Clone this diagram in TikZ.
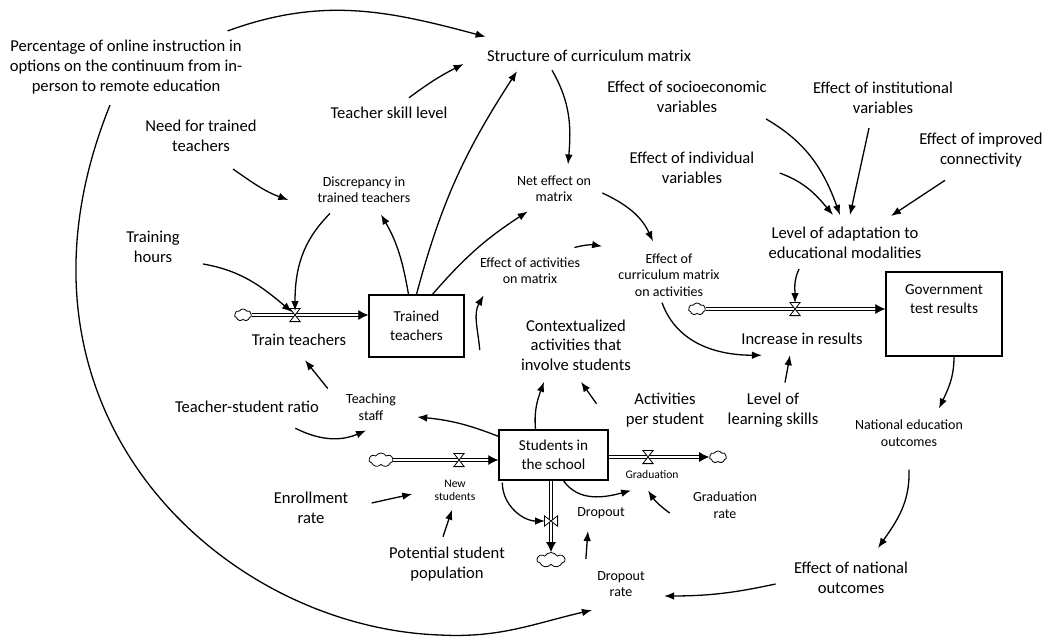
\documentclass[tikz,border=0pt]{standalone}
\usepackage{fontspec}
\setmainfont{Carlito}
\usetikzlibrary{arrows.meta,shapes.symbols}

\tikzset{
  big/.style={font=\fontsize{8.3}{9.8}\selectfont, align=center, inner sep=0.5pt},
  small/.style={font=\fontsize{7}{8.2}\selectfont, align=center, inner sep=0.5pt},
  tiny/.style={font=\fontsize{5.8}{6.6}\selectfont, align=center, inner sep=0.5pt},
  stocktext/.style={font=\fontsize{7.6}{9.6}\selectfont, align=center},
  stock/.style={draw, line width=0.7pt, stocktext},
  link/.style={line width=0.65pt, -{Latex[length=5pt,width=3.8pt]}},
  pipe/.style={double, double distance=1.3pt, line width=0.4pt, -{Latex[length=5pt,width=5pt]}},
  sink/.style={cloud, cloud puffs=7, cloud puff arc=120, aspect=1.6, draw, line width=0.4pt,
    inner sep=0pt, minimum width=8.5pt, minimum height=6pt},
  valve/.pic={\draw[line width=0.4pt, fill=white] (-2.6pt,3.3pt) -- (2.6pt,3.3pt)
    -- (-2.6pt,-3.3pt) -- (2.6pt,-3.3pt) -- cycle;}
}

\begin{document}
\begin{tikzpicture}[x=0.5pt, y=-0.5pt]
  \useasboundingbox (0,0) rectangle (1047,637);
  % Variables
  \node[big] (pct) at (126,67) {Percentage of online instruction in\\options on the continuum from in-\\person to remote education};
  \node[big] (struct) at (589,56) {Structure of curriculum matrix};
  \node[big] (skill) at (389,113) {Teacher skill level};
  \node[big] (need) at (201,136) {Need for trained\\teachers};
  \node[small] (discr) at (364,190) {Discrepancy in\\trained teachers};
  \node[small] (neteff) at (554,189) {Net effect on\\matrix};
  \node[big] (socio) at (687,97) {Effect of socioeconomic\\variables};
  \node[big] (inst) at (883,98) {Effect of institutional\\variables};
  \node[big] (conn) at (981,150) {Effect of improved\\connectivity};
  \node[big] (indiv) at (692,168) {Effect of individual\\variables};
  \node[big] (adapt) at (845,243) {Level of adaptation to\\educational modalities};
  \node[big] (hours) at (153,247) {Training\\hours};
  \node[small] (actmat) at (530,271) {Effect of activities\\on matrix};
  \node[small] (curract) at (669,275) {Effect of\\curriculum matrix\\on activities};
  \node[big] (trainlbl) at (299,340) {Train teachers};
  \node[big] (context) at (576,345) {Contextualized\\activities that\\involve students};
  \node[big] (incr) at (802,339) {Increase in results};
  \node[small] (staff) at (371,407) {Teaching\\staff};
  \node[big] (ratio) at (247,407) {Teacher-student ratio};
  \node[big] (actper) at (665,410) {Activities\\per student};
  \node[big] (learn) at (773,410) {Level of\\learning skills};
  \node[small] (natout) at (909,433) {National education\\outcomes};
  \node[tiny] (gradlbl) at (652,475) {Graduation};
  \node[tiny] (newstu) at (455,490) {New\\students};
  \node[big] (enroll) at (311,508) {Enrollment\\rate};
  \node[small] (gradrate) at (725,505) {Graduation\\rate};
  \node[small] (dropout) at (601,513) {Dropout};
  \node[big] (potential) at (447,564) {Potential student\\population};
  \node[small] (drate) at (621,584) {Dropout\\rate};
  \node[big] (effnat) at (851,578) {Effect of national\\outcomes};

  % Stocks
  \node[stock, minimum width=47.5pt, minimum height=31pt] (trained) at (416.5,326) {Trained\\teachers};
  \node[stock, minimum width=58pt, minimum height=42pt,
    label={[stocktext, anchor=north, yshift=-3pt]north:Government\\test results}] (gov) at (944,314) {};
  \node[stock, minimum width=54.5pt, minimum height=25pt] (students) at (553.5,455) {Students in\\the school};

  % Flows
  \node[sink] (cTrain) at (243,315) {};
  \node[sink] (cGov) at (697,309) {};
  \node[sink, minimum width=12pt, minimum height=7pt] (cNew) at (381,460) {};
  \node[sink] (cGrad) at (718,457) {};
  \node[sink, minimum width=14pt, minimum height=7.5pt] (cDrop) at (551,560) {};
  \coordinate (vTrain) at (295,315);
  \coordinate (vGov) at (795,309);
  \coordinate (vNew) at (459,460);
  \coordinate (vGrad) at (648,457);
  \coordinate (vDrop) at (551,521);
  \draw[pipe] (cTrain.east) -- (cTrain.east -| trained.west);
  \draw[pipe] (cGov.east) -- (cGov.east -| gov.west);
  \draw[pipe] (cNew.east) -- (cNew.east -| students.west);
  \draw[pipe] (students.east |- cGrad.west) -- (cGrad.west);
  \draw[pipe] (cDrop.north |- students.south) -- (cDrop.north);
  \pic at (vTrain) {valve};
  \pic at (vGov) {valve};
  \pic at (vNew) {valve};
  \pic at (vGrad) {valve};
  \pic[rotate=90] at (vDrop) {valve};

  % Links
  \coordinate (arcLow) at (440,635);
  \draw[link] ([xshift=-8pt,yshift=4pt]pct.north east) to[out=20,in=165] ([yshift=6pt]struct.north west);
  \draw[link] ([xshift=-8pt,yshift=-5pt]pct.south) to[out=248,in=178,out looseness=1.35,in looseness=0.9] (arcLow)
    to[out=-3,in=193] ([xshift=-2pt,yshift=-6pt]drate.south west);
  \draw[link] ([xshift=10pt,yshift=4pt]skill.north) to[bend left=5] ([xshift=-11pt,yshift=-4pt]struct.west);
  \draw[link] (trained.north) to[out=75,in=237] ([xshift=-36pt,yshift=-4pt]struct.south);
  \draw[link] ([xshift=16pt,yshift=-8pt]need.south) to[out=-35,in=160] ([xshift=-14pt,yshift=-5pt]discr.west);
  \draw[link] ([xshift=-17pt,yshift=-4.5pt]discr.south) to[out=225,in=90] ([yshift=2pt]vTrain);
  \draw[link] ([xshift=-4pt]trained.north) to[out=100,in=-60] ([xshift=8.5pt,yshift=-5pt]discr.south);
  \draw[link] ([xshift=11pt]hours.south east) to[out=-10,in=140] ([xshift=-1.5pt,yshift=1.5pt]vTrain);
  \draw[link] ([xshift=8pt]trained.north) to[bend left=8] ([xshift=6pt,yshift=-4pt]neteff.south west);
  \draw[link] ([xshift=-3.5pt,yshift=4.5pt]actmat.north east) to[bend left=12] ([xshift=-7.5pt,yshift=3pt]curract.north west);
  \draw[link] ([xshift=-20pt,yshift=-2.5pt]context.west) to[out=95,in=-120] ([xshift=2.5pt,yshift=-5pt]actmat.south west);
  \draw[link] ([xshift=-18.5pt,yshift=-3.5pt]struct.south) to[out=-60,in=85] ([xshift=7pt,yshift=5pt]neteff.north);
  \draw[link] ([xshift=5pt,yshift=-2pt]neteff.east) to[out=-25,in=115] ([xshift=-8pt,yshift=5.5pt]curract.north);
  \draw[link] ([xshift=-3.5pt,yshift=-2.5pt]curract.south) to[out=-70,in=180] ([xshift=11pt,yshift=-4.5pt]incr.south west);
  \draw[link] ([xshift=6pt,yshift=4.5pt]learn.north) -- ([xshift=-6pt,yshift=-4.5pt]incr.south);
  \draw[link] ([xshift=-23pt,yshift=-4.5pt]adapt.south) to[out=-115,in=90] ([yshift=3pt]vGov);
  \draw[link] ([xshift=-1pt,yshift=-2.5pt]socio.south east) to[out=-30,in=110] ([xshift=-2.5pt,yshift=5.5pt]adapt.north);
  \draw[link] ([xshift=12pt,yshift=-2.5pt]indiv.east) to[out=-20,in=130] ([xshift=-6pt,yshift=5.5pt]adapt.north);
  \draw[link] ([xshift=-7pt,yshift=-6.5pt]inst.south) -- ([xshift=2.5pt,yshift=5.5pt]adapt.north);
  \draw[link] ([xshift=-18pt,yshift=-6pt]conn.south) -- ([xshift=23pt,yshift=5pt]adapt.north);
  \draw[link] ([xshift=5pt]gov.south) to[out=-90,in=65] ([xshift=15pt,yshift=5pt]natout.north);
  \draw[link] ([yshift=-11pt]natout.south) to[out=-88,in=55] ([xshift=13.5pt,yshift=6.5pt]effnat.north);
  \draw[link] ([xshift=-8.5pt,yshift=-3pt]effnat.west) to[bend left=6] ([xshift=9pt,yshift=-6pt]drate.east);
  \draw[link] ([xshift=-5pt,yshift=5.5pt]drate.north west) -- ([xshift=6pt,yshift=-5.5pt]dropout.south west);
  \draw[link] ([xshift=-11pt,yshift=-4pt]gradrate.west) to[bend left=10] ([xshift=-2pt,yshift=-5pt]gradlbl.south);
  \draw[link] ([xshift=5pt]students.south) to[out=-55,in=195] ([xshift=3.5pt,yshift=-5pt]gradlbl.south west);
  \draw[link] ([xshift=2pt,yshift=-1pt]students.south west) to[out=-90,in=180] ([xshift=-3pt]vDrop);
  \draw[link] ([yshift=-3.5pt]students.north west) to[bend right=8] ([xshift=10pt,yshift=-5pt]staff.east);
  \draw[link] ([xshift=-8.5pt,yshift=2pt]staff.north west) -- ([xshift=3pt,yshift=-6.5pt]trainlbl.south);
  \draw[link] ([xshift=-12.5pt,yshift=-7pt]ratio.south east) to[bend right=25] ([xshift=-2.5pt,yshift=-4.5pt]staff.south);
  \draw[link] ([xshift=-9pt]students.north) to[out=95,in=-110] ([xshift=-16pt,yshift=-5pt]context.south);
  \draw[link] ([xshift=-14pt,yshift=-6pt]actper.north west) -- ([xshift=2.5pt,yshift=-5pt]context.south);
  \draw[link] ([xshift=11pt,yshift=2.5pt]enroll.east) -- ([xshift=-10.5pt,yshift=-2pt]newstu.west);
  \draw[link] ([xshift=-2pt,yshift=4.5pt]potential.north) -- ([xshift=-1.5pt,yshift=-4pt]newstu.south);
\end{tikzpicture}
\end{document}
